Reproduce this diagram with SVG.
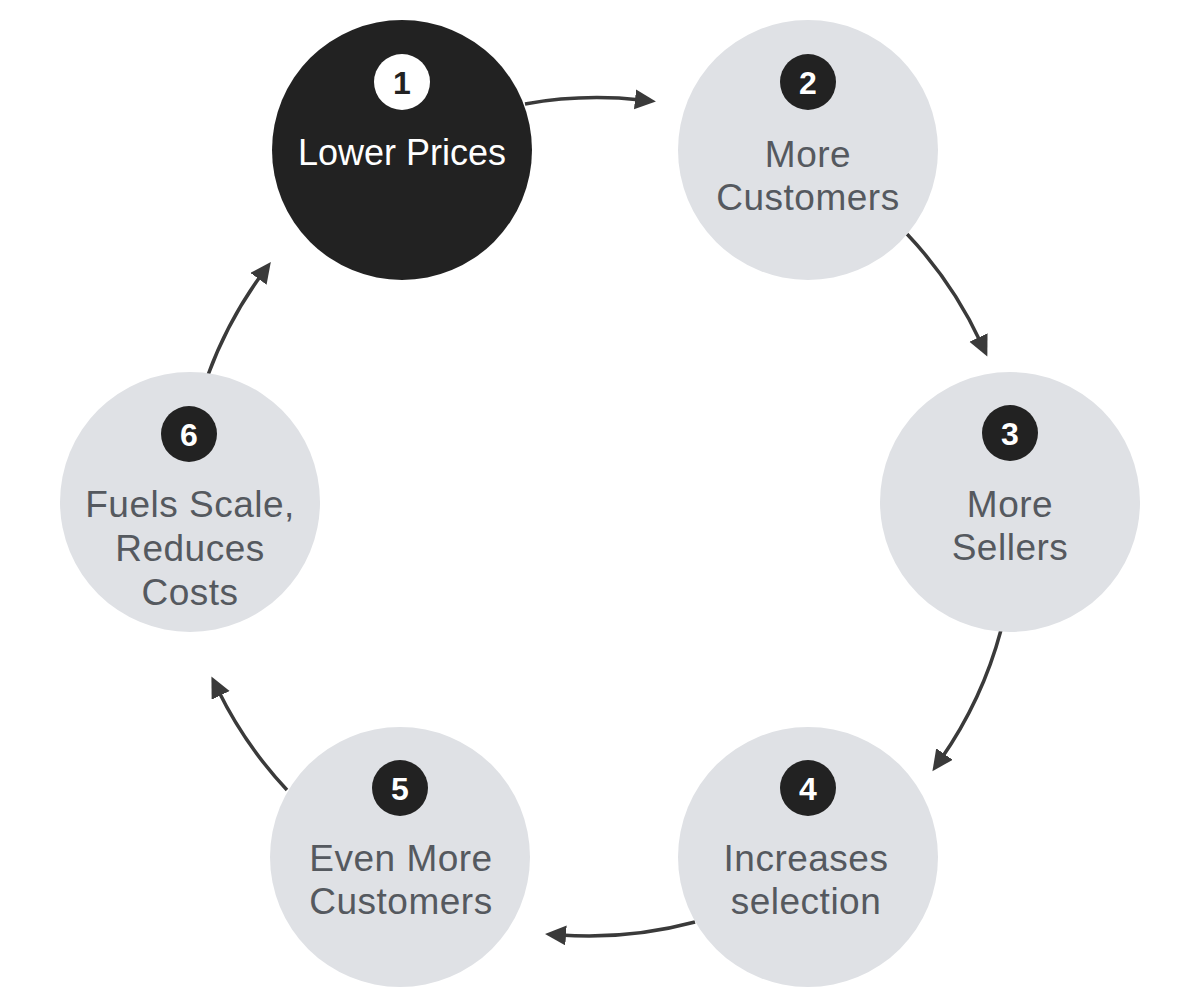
<svg xmlns="http://www.w3.org/2000/svg" width="1200" height="1000" viewBox="0 0 1200 1000">
<style>
.node{fill:#dfe1e5}
.dark{fill:#222222}
.lbl{font-family:"Liberation Sans",Arial,sans-serif;font-size:37px;letter-spacing:0.5px;fill:#55595f;text-anchor:middle;dominant-baseline:central}
.lblw{fill:#ffffff;font-size:36px;letter-spacing:0}
.badge{fill:#222222}
.badgew{fill:#ffffff}
.num{font-family:"Liberation Sans",Arial,sans-serif;font-size:32px;font-weight:700;fill:#ffffff;text-anchor:middle;dominant-baseline:central}
.numd{fill:#222222}
.conn{fill:none;stroke:#3a3a3a;stroke-width:3.5;marker-end:url(#ah)}
</style>
<defs>
<marker id="ah" markerUnits="userSpaceOnUse" markerWidth="22" markerHeight="22" refX="6" refY="10" orient="auto">
<path d="M0,0 L21,10 L0,20 z" fill="#3a3a3a"/>
</marker>
</defs>
<rect width="1200" height="1000" fill="#ffffff"/>
<g id="connectors">
<path class="conn" d="M525,104 A410,410 0 0 1 641,100"/>
<path class="conn" d="M907,234 A410,410 0 0 1 981,343"/>
<path class="conn" d="M1001,630 A410,410 0 0 1 941,759"/>
<path class="conn" d="M695,922 A410,410 0 0 1 560,935"/>
<path class="conn" d="M287,790 A410,410 0 0 1 218,690"/>
<path class="conn" d="M208,375 A410,410 0 0 1 262,274"/>
</g>
<g id="node1">
<circle class="dark" cx="402" cy="150" r="130"/>
<circle class="badgew" cx="402" cy="82" r="28"/>
<text class="num numd" x="402" y="83">1</text>
<text class="lbl lblw" x="402" y="152">Lower Prices</text>
</g>
<g id="node2">
<circle class="node" cx="808" cy="150" r="130"/>
<circle class="badge" cx="808" cy="82" r="28"/>
<text class="num" x="808" y="83">2</text>
<text class="lbl" x="808" y="154">More</text>
<text class="lbl" x="808" y="197">Customers</text>
</g>
<g id="node3">
<circle class="node" cx="1010" cy="502" r="130"/>
<circle class="badge" cx="1010" cy="433" r="28"/>
<text class="num" x="1010" y="434">3</text>
<text class="lbl" x="1010" y="504">More</text>
<text class="lbl" x="1010" y="547">Sellers</text>
</g>
<g id="node4">
<circle class="node" cx="808" cy="857" r="130"/>
<circle class="badge" cx="808" cy="788" r="28"/>
<text class="num" x="808" y="789">4</text>
<text class="lbl" x="806" y="858">Increases</text>
<text class="lbl" x="806" y="901">selection</text>
</g>
<g id="node5">
<circle class="node" cx="400" cy="857" r="130"/>
<circle class="badge" cx="400" cy="788" r="28"/>
<text class="num" x="400" y="789">5</text>
<text class="lbl" x="401" y="858">Even More</text>
<text class="lbl" x="401" y="901">Customers</text>
</g>
<g id="node6">
<circle class="node" cx="190" cy="502" r="130"/>
<circle class="badge" cx="189" cy="434" r="28"/>
<text class="num" x="189" y="435">6</text>
<text class="lbl" x="190" y="504">Fuels Scale,</text>
<text class="lbl" x="190" y="548">Reduces</text>
<text class="lbl" x="190" y="592">Costs</text>
</g>
</svg>
